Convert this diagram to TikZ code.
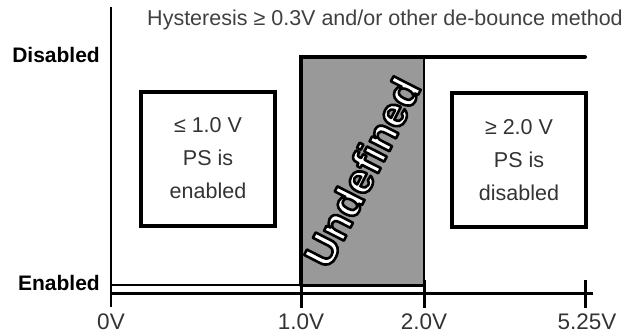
\documentclass[tikz,border=0pt]{standalone}
\usepackage{fontspec}
\setmainfont{Liberation Sans}
\usepackage{tikz}
\definecolor{undefgray}{RGB}{153,153,153}
\newcommand{\outlinetext}[1]{\special{pdf:literal direct 2.6 w 1 j 0 0 0 RG 2 Tr}#1\special{pdf:literal direct 0 Tr}}

\begin{document}
\begin{tikzpicture}[x=1pt, y=-1pt,
		lbl/.style={font=\fontsize{21}{21}\selectfont\bfseries, anchor=east, inner sep=0},
		ticklbl/.style={font=\fontsize{22.5}{22.5}\selectfont, text=black!80, inner sep=0},
		statebox/.style={draw, line width=4, minimum width=134, minimum height=134, align=center,
			text=black!80, font=\fontsize{21.5}{33}\selectfont, inner sep=0},
		undef/.style={font=\fontsize{42}{42}\selectfont\bfseries, rotate=63, inner sep=0}]
	\useasboundingbox (0,0) rectangle (630,335);
	% axes
	\coordinate (top) at (111,7);
	\coordinate (bot) at (111,307);
	\coordinate (o) at (111,293);
	\coordinate (end) at (593,293);
	\draw[line width=2.5] (top) -- (bot);
	\draw[line width=3] (o) -- (end);
	\foreach \x/\v/\n in {111/0V/t0, 301/1.0V/t1, 424/2.0V/t2, 587/5.25V/t3}
		\node[ticklbl] (\n) at (\x,322) {\v};
	\foreach \x in {301,424,585}
		\draw[line width=3] (\x,280) -- (\x,308);
	% undefined region
	\coordinate (lo) at (301,285);
	\coordinate (hi) at (424,57);
	\coordinate (en0) at (111,285);
	\coordinate (dis1) at (585,57);
	\fill[undefgray] (lo) rectangle (hi);
	\draw[line width=2] (lo -| hi) -- (hi);
	\draw[line width=2] (en0) -- (lo);
	\draw[line width=3] (lo) -- (lo -| hi);
	\draw[line width=4, line cap=round] (dis1) -- (hi -| lo) -- (lo);
	\node[undef, text=white] (undeftxt) at (362,172) {\outlinetext{Undefined}};
	% labels
	\node[lbl] (dis) at (100,55) {Disabled};
	\node[lbl] (en) at (100,283) {Enabled};
	\node[font=\fontsize{21.5}{21.5}\selectfont, text=black!75] (title) at (385,20)
		{Hysteresis ≥ 0.3V and/or other de-bounce method};
	\node[statebox] (on) at (208,158.5) {≤ 1.0 V\\PS is\\enabled};
	\node[statebox] (off) at (519,160) {≥ 2.0 V\\PS is\\disabled};
\end{tikzpicture}
\end{document}
